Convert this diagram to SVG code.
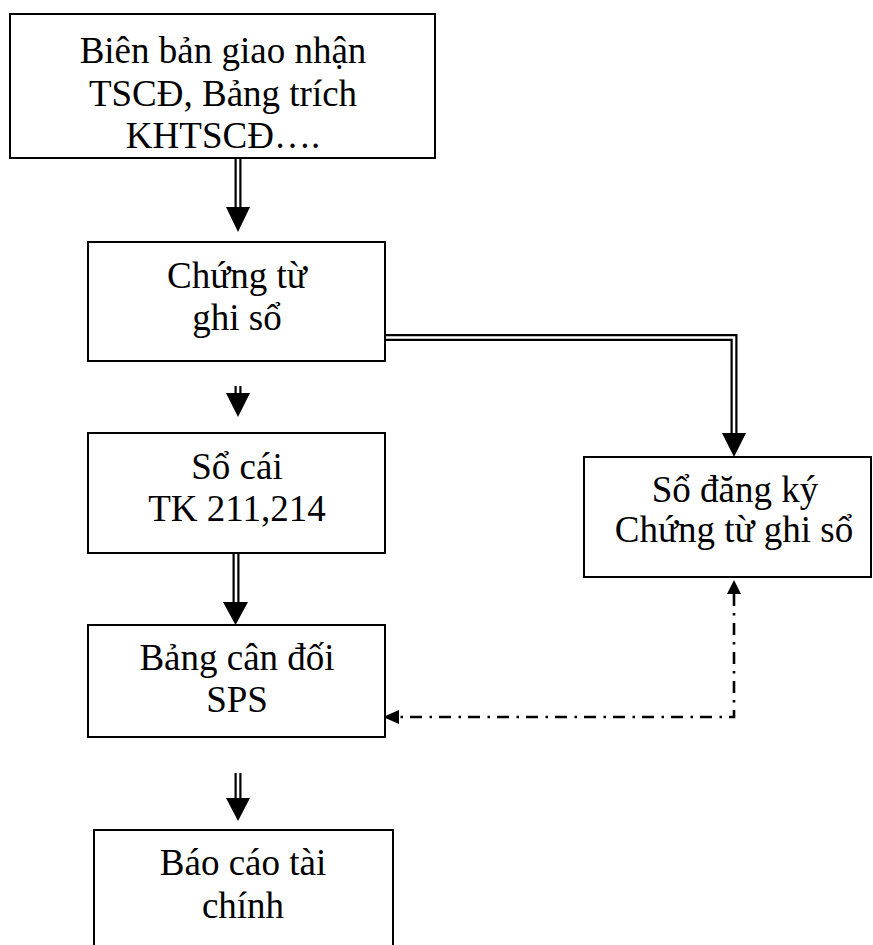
<svg xmlns="http://www.w3.org/2000/svg" width="873" height="945" viewBox="0 0 873 945">
  <style>
    .box { fill: #fff; stroke: #000; stroke-width: 2; }
    .lbl { font-family: "Liberation Serif", "Times New Roman", serif; font-size: 37px; fill: #000; text-anchor: middle; }
    .dbl-outer { fill: none; stroke: #000; stroke-width: 7; stroke-linejoin: miter; }
    .dbl-inner { fill: none; stroke: #fff; stroke-width: 2.6; stroke-linejoin: miter; }
    .head { fill: #000; }
    .dashdot { fill: none; stroke: #000; stroke-width: 2.6; stroke-dasharray: 12 7 2.5 7.5; }
  </style>

  <rect width="873" height="945" fill="#fff"/>

  <!-- connectors -->
  <g id="connectors">
    <!-- source documents -> voucher -->
    <line class="dbl-outer" x1="238" y1="159" x2="238" y2="208"/>
    <line class="dbl-inner" x1="238" y1="159" x2="238" y2="208"/>
    <polygon class="head" points="226,207 250,207 238,232"/>

    <!-- voucher -> ledger (short stub) -->
    <line class="dbl-outer" x1="238" y1="386" x2="238" y2="394"/>
    <line class="dbl-inner" x1="238" y1="386" x2="238" y2="394"/>
    <polygon class="head" points="226,393 250,393 238,417"/>

    <!-- ledger -> balance sheet -->
    <line class="dbl-outer" x1="236" y1="554" x2="236" y2="603"/>
    <line class="dbl-inner" x1="236" y1="554" x2="236" y2="603"/>
    <polygon class="head" points="223,602 248,602 235.5,625"/>

    <!-- balance sheet -> financial report -->
    <line class="dbl-outer" x1="238" y1="773" x2="238" y2="799"/>
    <line class="dbl-inner" x1="238" y1="773" x2="238" y2="799"/>
    <polygon class="head" points="226,798 250,798 238,821"/>

    <!-- voucher -> voucher register -->
    <polyline class="dbl-outer" points="386,337.5 734,337.5 734,434"/>
    <polyline class="dbl-inner" points="386,337.5 734,337.5 734,434"/>
    <polygon class="head" points="722,433 746,433 734,457"/>

    <!-- register <-> balance sheet cross-check -->
    <polyline class="dashdot" points="734,594 734,717 398,717"/>
    <polygon class="head" points="727,594 741,594 734,580"/>
    <polygon class="head" points="399,710 399,724 383,717"/>
  </g>

  <g id="node-source">
    <rect class="box" x="10" y="14" width="425" height="144"/>
    <text class="lbl" x="223" y="63">Biên bản giao nhận</text>
    <text class="lbl" x="223" y="106">TSCĐ, Bảng trích</text>
    <text class="lbl" x="223" y="148">KHTSCĐ….</text>
  </g>

  <g id="node-voucher">
    <rect class="box" x="88" y="242" width="297" height="119"/>
    <text class="lbl" x="237" y="288">Chứng từ</text>
    <text class="lbl" x="237" y="330">ghi sổ</text>
  </g>

  <g id="node-ledger">
    <rect class="box" x="88" y="433" width="297" height="120"/>
    <text class="lbl" x="237" y="479">Sổ cái</text>
    <text class="lbl" x="237" y="521">TK 211,214</text>
  </g>

  <g id="node-balance">
    <rect class="box" x="88" y="625" width="297" height="112"/>
    <text class="lbl" x="237" y="670">Bảng cân đối</text>
    <text class="lbl" x="237" y="712">SPS</text>
  </g>

  <g id="node-report">
    <rect class="box" x="94" y="830" width="299" height="140"/>
    <text class="lbl" x="243" y="875">Báo cáo tài</text>
    <text class="lbl" x="243" y="918">chính</text>
  </g>

  <g id="node-register">
    <rect class="box" x="584" y="457" width="287" height="120"/>
    <text class="lbl" x="735" y="502">Sổ đăng ký</text>
    <text class="lbl" x="734" y="542">Chứng từ ghi sổ</text>
  </g>
</svg>
